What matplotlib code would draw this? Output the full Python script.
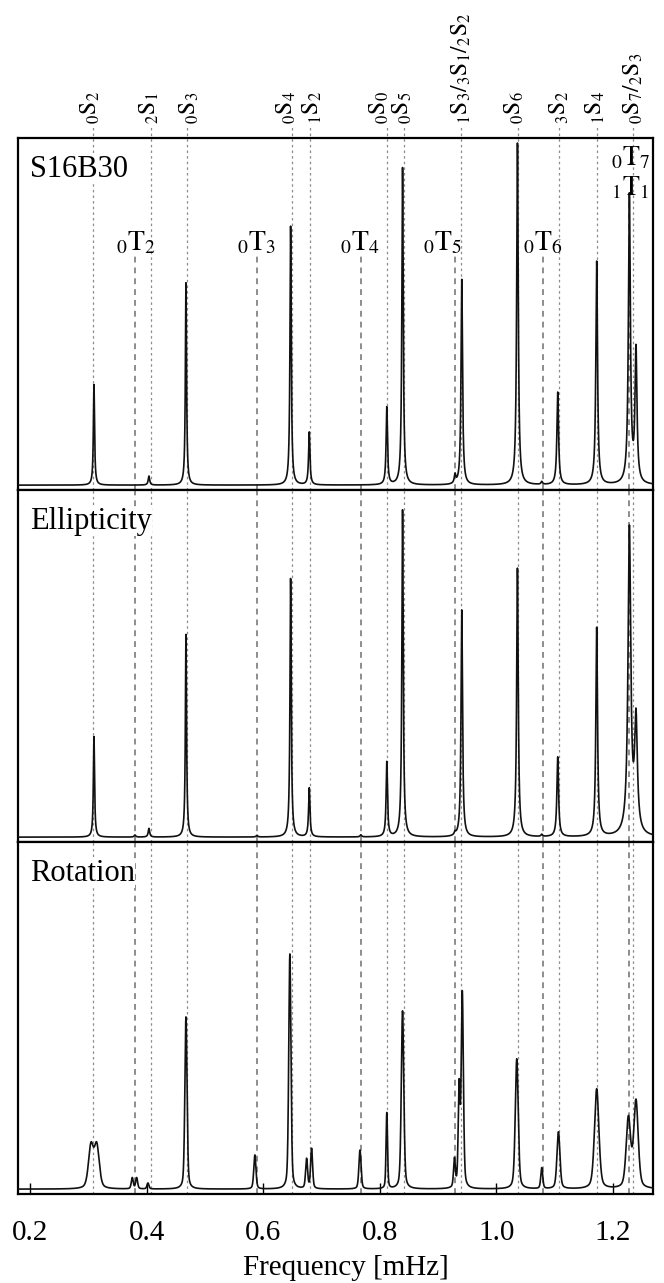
"""
Normal-mode amplitude spectra for three cases (S16B30, ellipticity,
rotation), stacked in one column with the mode identifications on top.
"""

import numpy as np
import matplotlib
matplotlib.use("Agg")
import matplotlib.pyplot as plt

plt.rcParams["font.family"] = ["Liberation Serif", "DejaVu Serif"]
plt.rcParams["mathtext.fontset"] = "stix"


# ──────────────────────────────────────────────────────────────────────────────
# Mode identifications (mHz)
# ──────────────────────────────────────────────────────────────────────────────

s_labels = [r"${}_0\mathrm{S}_2$", r"${}_2\mathrm{S}_1$", r"${}_0\mathrm{S}_3$",
            r"${}_0\mathrm{S}_4$", r"${}_1\mathrm{S}_2$", r"${}_0\mathrm{S}_0$",
            r"${}_0\mathrm{S}_5$",
            r"${}_1\mathrm{S}_3/{}_3\mathrm{S}_1/{}_2\mathrm{S}_2$",
            r"${}_0\mathrm{S}_6$", r"${}_3\mathrm{S}_2$", r"${}_1\mathrm{S}_4$",
            r"${}_0\mathrm{S}_7/{}_2\mathrm{S}_3$"]
s_freqs = [0.3075, 0.4069, 0.4686, 0.6492, 0.6800, 0.8120,
           0.8407, 0.9394, 1.0378, 1.1081, 1.1721, 1.2350]
# where the rotated labels sit (nudged apart where lines are close)
s_label_x = [0.3037, 0.4043, 0.4729, 0.6400, 0.6850, 0.7995,
             0.8380, 0.9397, 1.0315, 1.1074, 1.1703, 1.2354]

t_labels = [r"${}_0\mathrm{T}_2$", r"${}_0\mathrm{T}_3$", r"${}_0\mathrm{T}_4$",
            r"${}_0\mathrm{T}_5$", r"${}_0\mathrm{T}_6$"]
t_freqs = [0.3800, 0.5892, 0.7675, 0.9286, 1.0795]
t_label_x = [0.3820, 0.5892, 0.7660, 0.9080, 1.0795]

t7_labels = [r"${}_0\mathrm{T}_7$", r"${}_1\mathrm{T}_1$"]
t7_freq = 1.2280

# ──────────────────────────────────────────────────────────────────────────────
# Peaks (centre, height, half width)
# ──────────────────────────────────────────────────────────────────────────────

s16_freq = [0.3097, 0.4040, 0.4675, 0.6470, 0.6790, 0.8120, 0.8390, 0.9290,
            0.9406, 1.0361, 1.0778, 1.1052, 1.1720, 1.2281, 1.2394]
s16_amp  = [0.290, 0.026, 0.583, 0.747, 0.152, 0.224, 0.914, 0.025,
            0.592, 0.986, 0.008, 0.267, 0.644, 0.830, 0.380]
s16_hw   = [0.0012, 0.0015, 0.0012, 0.0013, 0.0014, 0.0014, 0.0014, 0.0015,
            0.0015, 0.0016, 0.0015, 0.0017, 0.0017, 0.0020, 0.0020]

ell_freq = [0.3097, 0.3800, 0.4040, 0.4675, 0.5892, 0.6470, 0.6790, 0.7675,
            0.8120, 0.8390, 0.9290, 0.9406, 1.0361, 1.0778, 1.1052, 1.1720,
            1.2281, 1.2394]
ell_amp  = [0.290, 0.006, 0.025, 0.584, 0.005, 0.746, 0.141, 0.006,
            0.216, 0.942, 0.008, 0.654, 0.775, 0.006, 0.230, 0.602,
            0.880, 0.320]
ell_hw   = [0.0012, 0.0015, 0.0015, 0.0012, 0.0015, 0.0013, 0.0014, 0.0015,
            0.0014, 0.0014, 0.0015, 0.0015, 0.0016, 0.0015, 0.0017, 0.0017,
            0.0028, 0.0028]

rot_freq = [0.3045, 0.3145, 0.3754, 0.3829, 0.4023, 0.4675, 0.5857, 0.6457,
            0.6744, 0.6830, 0.7660, 0.8120, 0.8390, 0.9280, 0.9360, 0.9415,
            1.0349, 1.0778, 1.1064, 1.1720, 1.2264, 1.2394]
rot_amp  = [0.121, 0.121, 0.032, 0.032, 0.017, 0.496, 0.098, 0.677,
            0.085, 0.115, 0.112, 0.219, 0.513, 0.080, 0.280, 0.560,
            0.375, 0.060, 0.164, 0.288, 0.200, 0.250]
rot_hw   = [0.0050, 0.0050, 0.0020, 0.0020, 0.0020, 0.0022, 0.0022, 0.0022,
            0.0020, 0.0020, 0.0022, 0.0015, 0.0025, 0.0018, 0.0018, 0.0022,
            0.0030, 0.0020, 0.0030, 0.0045, 0.0045, 0.0045]

panel_names = ["S16B30", "Ellipticity", "Rotation"]
xticks = [0.2, 0.4, 0.6, 0.8, 1.0, 1.2]


def spectrum(f, freqs, amps, widths, eta):
    """Sum of pseudo-Voigt peaks (eta = Lorentzian fraction)."""
    out = np.zeros_like(f)
    for f0, a, g in zip(freqs, amps, widths):
        d2 = (f - f0) ** 2
        lor = g * g / (d2 + g * g)
        gau = np.exp(-np.log(2) * d2 / (g * g))
        out += a * (eta * lor + (1 - eta) * gau)
    return out


# ──────────────────────────────────────────────────────────────────────────────
# Figure
# ──────────────────────────────────────────────────────────────────────────────

W, H = 664, 1283
fig = plt.figure(figsize=(W / 100, H / 100), dpi=100)

left, right = 18 / W, 653 / W
top, bottom = 1 - 138 / H, 1 - 1194 / H
ph = (top - bottom) / 3

freq = np.linspace(0.17, 1.28, 8000)
panels = [(s16_freq, s16_amp, s16_hw, 1.0),
          (ell_freq, ell_amp, ell_hw, 1.0),
          (rot_freq, rot_amp, rot_hw, 0.4)]

dot_kw  = dict(color="#8c8c8c", lw=0.9, ls=(0, (2, 2.5)), zorder=1)
dash_kw = dict(color="#7a7a7a", lw=1.2, ls=(0, (3.5, 3.0)), zorder=1)

axes = []
for i, (fr, am, hw, eta) in enumerate(panels):
    ax = fig.add_axes([left, top - (i + 1) * ph, right - left, ph])
    ax.plot(freq, spectrum(freq, fr, am, hw, eta), color="#111111",
            lw=1.2, zorder=3)
    ax.set_xlim(0.1794, 1.2686)
    ax.set_ylim(-0.014, 1.0)
    ax.set_yticks([])
    for sp in ax.spines.values():
        sp.set_linewidth(1.6)

    trans = ax.get_xaxis_transform()
    for f0 in s_freqs:
        y1 = 1.037 if i == 0 else 1.0
        ax.plot([f0, f0], [0, y1], transform=trans, clip_on=False, **dot_kw)
    for f0 in t_freqs:
        y1 = 0.673 if i == 0 else 1.0
        ax.plot([f0, f0], [0, y1], transform=trans, **dash_kw)
    y1 = 0.824 if i == 0 else 1.0
    ax.plot([t7_freq, t7_freq], [0, y1], transform=trans, **dash_kw)

    ax.text(0.019, 0.91, panel_names[i], transform=ax.transAxes,
            fontsize=22, va="center", ha="left", zorder=4,
            bbox=dict(facecolor="white", edgecolor="none", pad=0))
    axes.append(ax)

# mode labels above the top panel
ax1 = axes[0]
tr1 = ax1.get_xaxis_transform()
for lab, fx in zip(s_labels, s_label_x):
    ax1.text(fx, 1.04, lab, transform=tr1, rotation=90, ha="center",
             va="bottom", fontsize=17, clip_on=False)

for lab, fx in zip(t_labels, t_label_x):
    ax1.text(fx, 0.702, lab, transform=tr1, ha="center", va="center",
             fontsize=20, zorder=4)
ax1.text(t7_freq + 0.002, 0.943, t7_labels[0], transform=tr1, ha="center",
         va="center", fontsize=20, zorder=4)
ax1.text(t7_freq + 0.002, 0.858, t7_labels[1], transform=tr1, ha="center",
         va="center", fontsize=20, zorder=4)

for ax in axes[:2]:
    ax.set_xticks([])

ax3 = axes[2]
ax3.set_xticks(xticks)
ax3.set_xticklabels([f"{v:.1f}" for v in xticks], fontsize=21)
ax3.tick_params(axis="x", direction="in", length=8, width=1.0, pad=19)

fig.text(0.521, 8 / H, "Frequency [mHz]", ha="center", va="baseline",
         fontsize=21)

fig.savefig("out.png", dpi=100)
